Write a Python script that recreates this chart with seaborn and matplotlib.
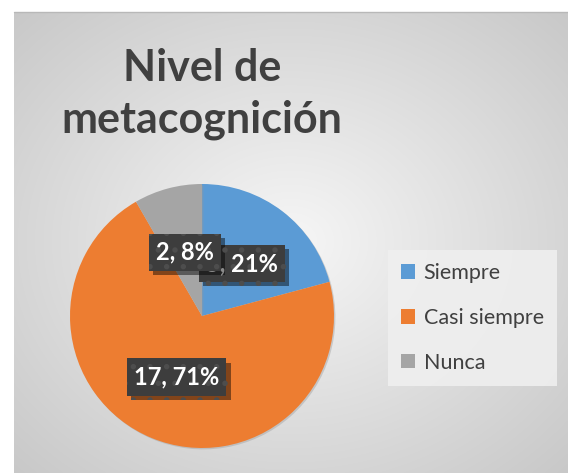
import numpy as np
import matplotlib.pyplot as plt
import matplotlib.patheffects as pe
import seaborn as sns

# datos del gráfico
categorias = ['Siempre', 'Casi siempre', 'Nunca']
frecuencias = [5, 17, 2]
titulo = ['Nivel de', 'metacognición']

sns.set_theme(style='white')
plt.rcParams['font.family'] = ['Lato', 'DejaVu Sans']
plt.rcParams['hatch.linewidth'] = 1.5
colores = sns.color_palette(['#5B9BD5', '#ED7D31', '#A5A5A5'])

W, H = 568, 473
fig = plt.figure(figsize=(W / 100, H / 100), dpi=100, facecolor='white')

# fondo con degradado radial
bg = fig.add_axes([14 / W, 0, (W - 14) / W, (H - 12) / H])
yy, xx = np.mgrid[-1:1:300j, -1:1:360j]
r = np.clip(np.sqrt(xx ** 2 + yy ** 2) / np.sqrt(2), 0, 1)
g = 0.965 - 0.18 * r
bg.imshow(np.dstack([g, g, g]), extent=[0, 1, 0, 1], aspect='auto', interpolation='bilinear')
bg.axis('off')
fig.add_artist(plt.Line2D([14 / W, 1], [(H - 12.5) / H] * 2, color='#b8b8b8', lw=1))

# tarta
cx, cy, rad = 202, 316, 132
ax = fig.add_axes([(cx - rad) / W, (H - cy - rad) / H, 2 * rad / W, 2 * rad / H])
total = sum(frecuencias)


def etiqueta(pct):
    return f'{int(round(pct * total / 100))}, {pct:.0f}%'


wedges, textos, autotextos = ax.pie(
    frecuencias, colors=colores, startangle=90, counterclock=False,
    autopct=etiqueta, pctdistance=0.5, radius=1,
    wedgeprops=dict(linewidth=0),
    textprops=dict(color='white', fontsize=17, fontweight='bold'))
ax.set_xlim(-1, 1)
ax.set_ylim(-1, 1)
ax.axis('off')

# leyenda (antes de las sombras para que los cuadros queden limpios)
leg = fig.legend(wedges, categorias, loc='center left', bbox_to_anchor=(388 / W, (H - 318) / H),
                 frameon=True, fontsize=15.5, handlelength=0.65, handleheight=0.65,
                 handletextpad=0.4, labelspacing=1.15, borderpad=0.6, borderaxespad=0,
                 fancybox=False)
leg.get_frame().set_facecolor('#efefef')
leg.get_frame().set_edgecolor('none')
leg.get_frame().set_alpha(0.9)
for txt in leg.get_texts():
    txt.set_color('#404040')

for w in wedges:
    w.set_path_effects([pe.SimplePatchShadow(offset=(1, -1), shadow_rgbFace='#999999', alpha=0.4), pe.Normal()])

for t in autotextos:
    t.set_bbox(dict(boxstyle='square,pad=0.3', facecolor='#3d3d3d', edgecolor='#4d4d4d',
                    hatch='.', linewidth=0))
    t.get_bbox_patch().set_path_effects([
        pe.SimplePatchShadow(offset=(3, -3), shadow_rgbFace='black', alpha=0.45), pe.Normal()])

# título
fig.text(cx / W, (H - 81) / H, titulo[0], ha='center', va='baseline',
         fontsize=31, fontweight='bold', color='#404040')
fig.text(cx / W, (H - 133) / H, titulo[1], ha='center', va='baseline',
         fontsize=31, fontweight='bold', color='#404040')

fig.savefig('out.png', dpi=100, facecolor='white')
